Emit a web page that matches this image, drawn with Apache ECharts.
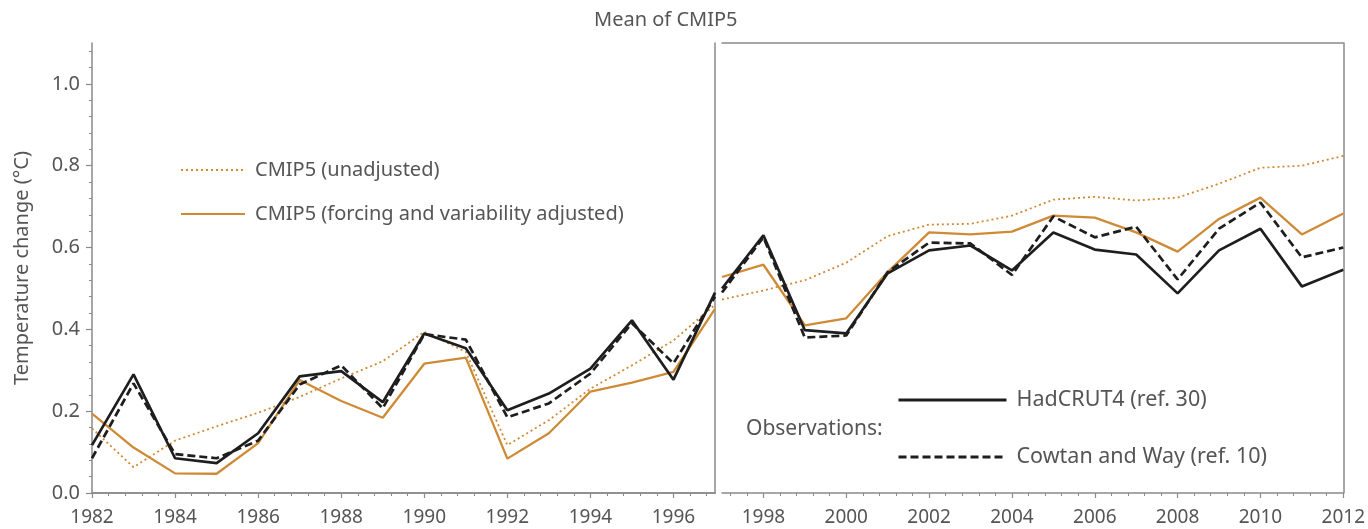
<!DOCTYPE html>
<html>
<head>
<meta charset="utf-8">
<script src="https://cdn.jsdelivr.net/npm/echarts@6/dist/echarts.min.js"></script>
<style>
  html, body { margin: 0; padding: 0; background: #fff; }
  #chart { width: 1368px; height: 529px; }
</style>
</head>
<body>
<div id="chart"></div>
<script>
// Years for each period
const yearsEarly = [1982, 1983, 1984, 1985, 1986, 1987, 1988, 1989, 1990, 1991, 1992, 1993, 1994, 1995, 1996, 1997];
const yearsLate = [1997, 1998, 1999, 2000, 2001, 2002, 2003, 2004, 2005, 2006, 2007, 2008, 2009, 2010, 2011, 2012];

// Temperature change (°C), 1982–1997
const hadcrutEarly = [0.117, 0.290, 0.085, 0.073, 0.146, 0.285, 0.298, 0.222, 0.390, 0.354, 0.202, 0.243, 0.304, 0.422, 0.277, 0.490];
const cowtanEarly = [0.085, 0.268, 0.095, 0.085, 0.128, 0.265, 0.312, 0.207, 0.388, 0.375, 0.185, 0.219, 0.292, 0.415, 0.317, 0.480];
const cmipAdjEarly = [0.194, 0.111, 0.048, 0.047, 0.122, 0.276, 0.225, 0.184, 0.316, 0.331, 0.084, 0.146, 0.248, 0.270, 0.296, 0.450];
const cmipRawEarly = [0.158, 0.063, 0.128, 0.163, 0.196, 0.235, 0.280, 0.322, 0.394, 0.345, 0.117, 0.178, 0.255, 0.312, 0.373, 0.460];

// Temperature change (°C), 1997–2012
const hadcrutLate = [0.500, 0.630, 0.398, 0.390, 0.537, 0.593, 0.605, 0.544, 0.637, 0.595, 0.583, 0.488, 0.593, 0.646, 0.505, 0.546];
const cowtanLate = [0.490, 0.625, 0.380, 0.385, 0.540, 0.612, 0.610, 0.533, 0.676, 0.625, 0.651, 0.522, 0.646, 0.710, 0.576, 0.600];
const cmipAdjLate = [0.528, 0.558, 0.410, 0.427, 0.540, 0.637, 0.632, 0.639, 0.678, 0.673, 0.637, 0.590, 0.670, 0.722, 0.632, 0.683];
const cmipRawLate = [0.473, 0.495, 0.520, 0.563, 0.628, 0.656, 0.658, 0.678, 0.717, 0.724, 0.715, 0.722, 0.756, 0.795, 0.800, 0.824];

// Tick labels
const xLabelsEarly = [1982, 1984, 1986, 1988, 1990, 1992, 1994, 1996];
const xLabelsLate = [1998, 2000, 2002, 2004, 2006, 2008, 2010, 2012];
const yLabels = [0.0, 0.2, 0.4, 0.6, 0.8, 1.0];

const NAME_RAW = 'CMIP5 (unadjusted)';
const NAME_ADJ = 'CMIP5 (forcing and variability adjusted)';
const NAME_HAD = 'HadCRUT4 (ref. 30)';
const NAME_CW = 'Cowtan and Way (ref. 10)';

const ORANGE = '#cf8a36';
const INK = '#1e1e1e';
const AXIS = '#8a8a8a';
const TEXT = '#555555';
const FONT = '"Noto Sans", "Open Sans", sans-serif';
const CLEAR = 'rgba(0,0,0,0)';

// minor tick positions: five steps per two-year label interval
function minorTicks(lo, hi, anchor) {
  const out = [];
  const step = 0.4;
  let start = anchor;
  while (start - step >= lo - 1e-9) start -= step;
  for (let v = start; v <= hi + 1e-9; v += step) out.push(+v.toFixed(2));
  return out;
}
const yMinor = [];
for (let i = 0; i <= 27; i++) yMinor.push(+(i * 0.04).toFixed(2));

function pairs(xs, ys) { return xs.map((x, i) => [x, ys[i]]); }

function baseX(grid, lo, hi, labels) {
  return [
    { // labelled axis with major ticks
      gridIndex: grid, type: 'value', min: lo, max: hi, position: 'bottom',
      axisLine: { show: true, lineStyle: { color: AXIS, width: 1.5 } },
      axisTick: { show: true, inside: false, length: 5, customValues: labels, lineStyle: { color: AXIS, width: 1.2 } },
      axisLabel: { show: true, customValues: labels, color: TEXT, fontSize: 19, fontFamily: FONT, margin: 15,
                   formatter: v => String(Math.round(v)) },
      splitLine: { show: false }
    },
    { // minor ticks
      gridIndex: grid, type: 'value', min: lo, max: hi, position: 'bottom',
      axisLine: { show: false },
      axisTick: { show: true, inside: false, length: 3, customValues: minorTicks(lo, hi, labels[0]), lineStyle: { color: AXIS, width: 1 } },
      axisLabel: { show: false },
      splitLine: { show: false }
    },
    { // top frame
      gridIndex: grid, type: 'value', min: lo, max: hi, position: 'top',
      axisLine: { show: true, lineStyle: { color: AXIS, width: 1.5 } },
      axisTick: { show: false }, axisLabel: { show: false }, splitLine: { show: false }
    }
  ];
}

const option = {
  backgroundColor: '#ffffff',
  animation: false,
  title: {
    text: 'Mean of CMIP5',
    left: 589, top: 5,
    textStyle: { color: TEXT, fontSize: 20, fontWeight: 'normal', fontFamily: FONT }
  },
  grid: [
    { left: 92, top: 43, width: 623, height: 450 },
    { left: 722, top: 43, width: 622, height: 450 }
  ],
  xAxis: [
    ...baseX(0, 1982, 1997, xLabelsEarly),
    ...baseX(1, 1997, 2012, xLabelsLate)
  ],
  yAxis: [
    { // 0: main left axis
      gridIndex: 0, type: 'value', min: 0, max: 1.1, position: 'left',
      name: 'Temperature change (°C)', nameLocation: 'middle', nameGap: 60,
      nameTextStyle: { color: TEXT, fontSize: 20, fontFamily: FONT },
      axisLine: { show: true, lineStyle: { color: AXIS, width: 1.5 } },
      axisTick: { show: true, inside: false, length: 6, customValues: yLabels, lineStyle: { color: AXIS, width: 1.2 } },
      axisLabel: { show: true, customValues: yLabels, color: TEXT, fontSize: 20, fontFamily: FONT, margin: 12,
                   formatter: v => v.toFixed(1) },
      splitLine: { show: false }
    },
    { // 1: minor ticks
      gridIndex: 0, type: 'value', min: 0, max: 1.1, position: 'left',
      axisLine: { show: false },
      axisTick: { show: true, inside: false, length: 3, customValues: yMinor, lineStyle: { color: AXIS, width: 1 } },
      axisLabel: { show: false }, splitLine: { show: false }
    },
    { // 2: right frame of first panel
      gridIndex: 0, type: 'value', min: 0, max: 1.1, position: 'right',
      axisLine: { show: true, lineStyle: { color: AXIS, width: 1.5 } },
      axisTick: { show: false }, axisLabel: { show: false }, splitLine: { show: false }
    },
    { // 3: right frame of second panel
      gridIndex: 1, type: 'value', min: 0, max: 1.1, position: 'right',
      axisLine: { show: true, lineStyle: { color: AXIS, width: 1.5 } },
      axisTick: { show: false }, axisLabel: { show: false }, splitLine: { show: false }
    }
  ],
  legend: [
    {
      data: [NAME_RAW, NAME_ADJ],
      orient: 'vertical', left: 175, top: 155,
      itemWidth: 64, itemHeight: 14, itemGap: 24,
      itemStyle: { color: CLEAR, borderColor: CLEAR, borderWidth: 0 },
      textStyle: { color: TEXT, fontSize: 20, fontFamily: FONT, padding: [0, 0, 0, 5] },
      selectedMode: false
    },
    {
      data: [NAME_HAD, NAME_CW],
      orient: 'vertical', left: 892, top: 384,
      itemWidth: 108, itemHeight: 14, itemGap: 35,
      itemStyle: { color: CLEAR, borderColor: CLEAR, borderWidth: 0 },
      lineStyle: { width: 3 },
      textStyle: { color: TEXT, fontSize: 21.5, fontFamily: FONT, padding: [0, 0, 0, 5] },
      selectedMode: false
    }
  ],
  graphic: [
    {
      type: 'text', left: 746, top: 419,
      style: { text: 'Observations:', fill: TEXT, fontSize: 21, fontFamily: FONT }
    }
  ],
  series: []
};

function addPanel(xIdx, yIdx, years, raw, adj, had, cw) {
  option.series.push(
    { name: NAME_RAW, type: 'line', xAxisIndex: xIdx, yAxisIndex: yIdx, symbol: 'none', z: 2,
      data: pairs(years, raw), color: ORANGE,
      lineStyle: { color: ORANGE, width: 1.8, type: [2, 3] } },
    { name: NAME_ADJ, type: 'line', xAxisIndex: xIdx, yAxisIndex: yIdx, symbol: 'none', z: 3,
      data: pairs(years, adj), color: ORANGE,
      lineStyle: { color: ORANGE, width: 2.3 } },
    { name: NAME_HAD, type: 'line', xAxisIndex: xIdx, yAxisIndex: yIdx, symbol: 'none', z: 4,
      data: pairs(years, had), color: INK,
      lineStyle: { color: INK, width: 2.7 } },
    { name: NAME_CW, type: 'line', xAxisIndex: xIdx, yAxisIndex: yIdx, symbol: 'none', z: 5,
      data: pairs(years, cw), color: INK,
      lineStyle: { color: INK, width: 2.7, type: [8, 4] } }
  );
}
addPanel(0, 0, yearsEarly, cmipRawEarly, cmipAdjEarly, hadcrutEarly, cowtanEarly);
addPanel(3, 3, yearsLate, cmipRawLate, cmipAdjLate, hadcrutLate, cowtanLate);

const chart = echarts.init(document.getElementById('chart'), null, { renderer: 'canvas' });
chart.setOption(option);
</script>
</body>
</html>
